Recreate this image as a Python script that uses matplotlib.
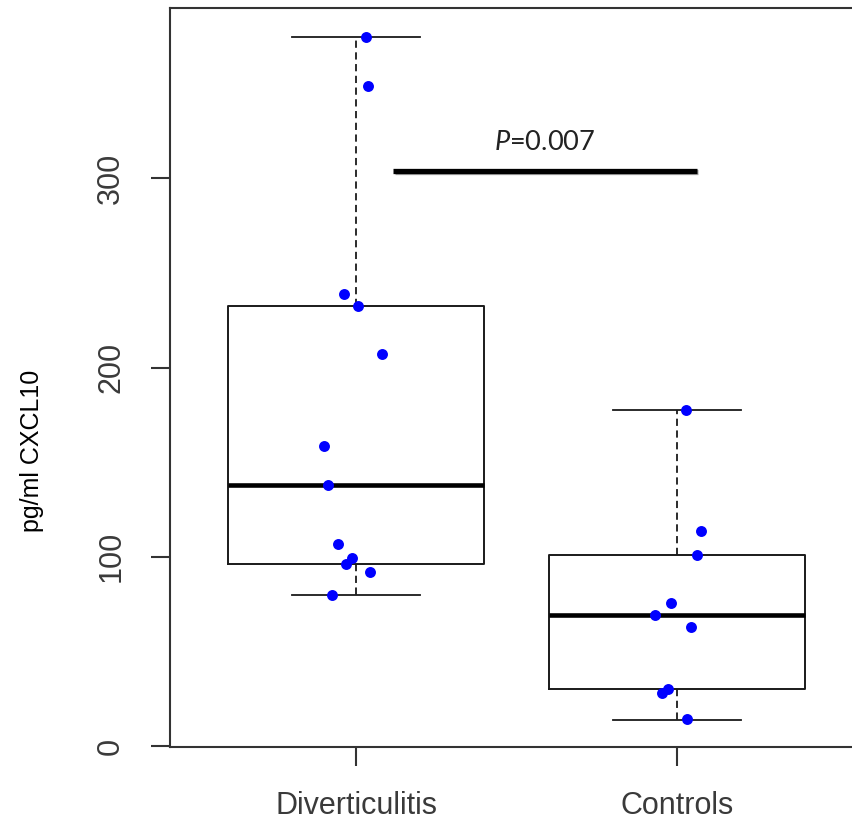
import numpy as np
import matplotlib
matplotlib.use("Agg")
import matplotlib.pyplot as plt
import matplotlib.patheffects as pe

# groups
groups = ["Diverticulitis", "Controls"]

# box statistics (pg/ml)
box_q1      = [96.0, 30.0]
box_median  = [138.0, 69.0]
box_q3      = [232.7, 100.8]
box_whislo  = [79.7, 14.0]
box_whishi  = [374.7, 177.8]

# individual values and their horizontal jitter
div_values  = [374.7, 349.0, 239.0, 232.7, 207.4, 158.8, 138.0, 106.6, 99.2, 96.0, 91.8, 79.7]
div_jitter  = [0.031, 0.037, -0.037, 0.006, 0.081, -0.100, -0.087, -0.056, -0.012, -0.031, 0.044, -0.075]
ctl_values  = [177.8, 113.9, 101.2, 75.6, 69.3, 63.0, 30.4, 28.1, 14.2]
ctl_jitter  = [0.028, 0.074, 0.063, -0.019, -0.069, 0.043, -0.029, -0.045, 0.031]

# significance annotation
p_text  = r"$\mathit{P}$=0.007"
p_bar_x = [1.115, 2.062]
p_bar_y = 304.0

plt.rcParams["font.family"] = ["Liberation Sans", "DejaVu Sans"]
plt.rcParams["mathtext.fontset"] = "custom"
plt.rcParams["mathtext.rm"] = "Lato"
plt.rcParams["mathtext.it"] = "Lato:italic"

fig = plt.figure(figsize=(8.53, 8.25), dpi=100)
ax = fig.add_axes([170/853, 78/825, 693/853, 739/825])

# boxes
stats = []
for i in range(len(groups)):
    stats.append(dict(med=box_median[i], q1=box_q1[i], q3=box_q3[i],
                      whislo=box_whislo[i], whishi=box_whishi[i], fliers=[]))
ax.bxp(stats, positions=[1, 2], widths=0.8, capwidths=0.4, showfliers=False,
       boxprops=dict(color="#1a1a1a", linewidth=1.4),
       medianprops=dict(color="black", linewidth=3.3, solid_capstyle="butt"),
       whiskerprops=dict(color="#1a1a1a", linewidth=1.3, linestyle=(0, (4, 2.5))),
       capprops=dict(color="#1a1a1a", linewidth=1.3))

# points
ax.scatter(1 + np.array(div_jitter), div_values, s=62, color="#0000ff", zorder=5, linewidths=0)
ax.scatter(2 + np.array(ctl_jitter), ctl_values, s=62, color="#0000ff", zorder=5, linewidths=0)

# significance bar
ax.plot(p_bar_x, [p_bar_y, p_bar_y], color="black", linewidth=3.8, solid_capstyle="butt",
        path_effects=[pe.SimpleLineShadow(offset=(1.2, -1.2), alpha=0.35), pe.Normal()])
ax.text(1.589, 318.7, p_text, ha="center", va="center", fontsize=19.5,
        family="Lato", color="#222222")

ax.set_xlim(0.42, 2.58)
ax.set_ylim(-0.5, 390)
ax.set_xticks([1, 2])
ax.set_xticklabels(groups)
ax.set_yticks([0, 100, 200, 300])
ax.set_yticklabels(["0", "100", "200", "300"], rotation=90, va="center")

for s in ax.spines.values():
    s.set_linewidth(1.5)
    s.set_color("#333333")
ax.tick_params(axis="both", length=13.5, width=1.5, color="#333333",
               labelsize=22, labelcolor="#3a3a3a", pad=18)

fig.text(32/853, 1 - 451/825, "pg/ml CXCL10", rotation=90, ha="center", va="center",
         fontsize=18, color="black")

fig.savefig("out.png", dpi=100)
